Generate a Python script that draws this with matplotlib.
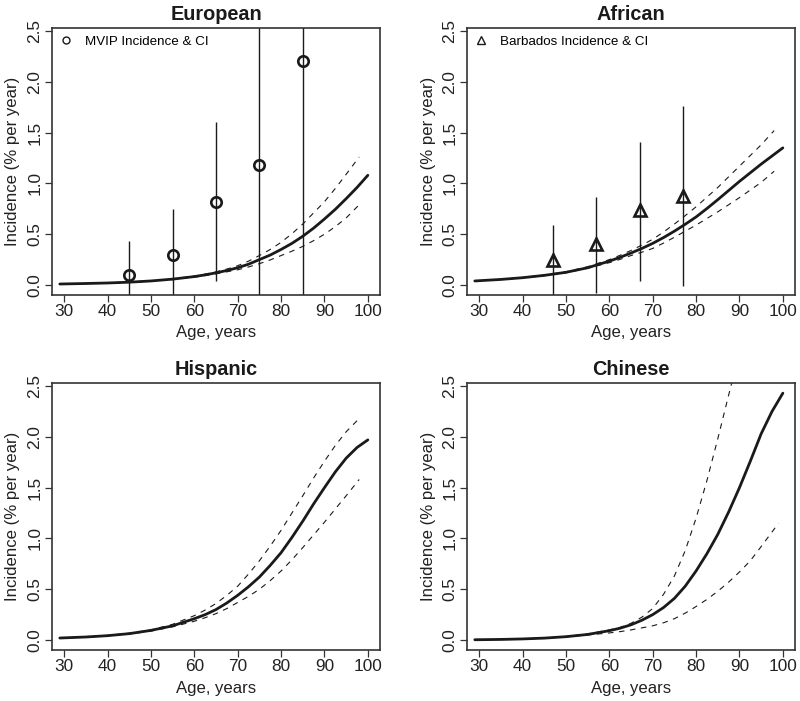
import matplotlib
matplotlib.use("Agg")
import matplotlib.pyplot as plt
from matplotlib.lines import Line2D

plt.rcParams['font.family'] = ['Liberation Sans', 'DejaVu Sans']

age_fit = [29, 35, 40, 45, 50, 55, 60, 62.5, 65, 67.5, 70, 72.5, 75, 77.5,
           80, 82.5, 85, 87.5, 90, 92.5, 95, 97.5, 100]
age_ci = [29, 35, 40, 45, 50, 55, 60, 62.5, 65, 67.5, 70, 72.5, 75, 77.5,
          80, 82.5, 85, 87.5, 90, 92.5, 95, 98]
age_ci_ch = [29, 35, 40, 45, 50, 55, 60, 62.5, 65, 67.5, 70, 72.5, 75, 77.5,
             80, 82.5, 85, 87.5, 90, 92.5, 95, 99]

# European
eu_fit = [0.010, 0.015, 0.020, 0.028, 0.040, 0.058, 0.083, 0.10, 0.12, 0.143, 0.17, 0.205,
          0.25, 0.295, 0.35, 0.41, 0.48, 0.56, 0.65, 0.745, 0.85, 0.96, 1.08]
eu_hi = [0.010, 0.015, 0.021, 0.029, 0.042, 0.061, 0.088, 0.107, 0.13, 0.157, 0.19, 0.235,
         0.29, 0.35, 0.42, 0.505, 0.60, 0.71, 0.82, 0.95, 1.09, 1.26]
eu_lo = [0.009, 0.014, 0.019, 0.026, 0.037, 0.054, 0.077, 0.093, 0.11, 0.13, 0.15, 0.178,
         0.21, 0.247, 0.29, 0.333, 0.38, 0.437, 0.50, 0.575, 0.66, 0.79]

# African
af_fit = [0.040, 0.055, 0.072, 0.095, 0.125, 0.17, 0.235, 0.273, 0.315, 0.36, 0.41, 0.467,
          0.53, 0.598, 0.67, 0.753, 0.84, 0.93, 1.02, 1.105, 1.19, 1.27, 1.35]
af_hi = [0.040, 0.056, 0.074, 0.098, 0.13, 0.18, 0.25, 0.293, 0.34, 0.393, 0.45, 0.522,
         0.60, 0.683, 0.77, 0.865, 0.96, 1.065, 1.17, 1.275, 1.38, 1.52]
af_lo = [0.039, 0.054, 0.070, 0.092, 0.12, 0.165, 0.22, 0.253, 0.29, 0.323, 0.36, 0.413,
         0.47, 0.53, 0.59, 0.655, 0.72, 0.79, 0.86, 0.935, 1.01, 1.12]

# Hispanic
hs_fit = [0.020, 0.030, 0.043, 0.063, 0.095, 0.14, 0.21, 0.25, 0.30, 0.365, 0.44, 0.525,
          0.62, 0.735, 0.86, 1.01, 1.17, 1.34, 1.50, 1.655, 1.79, 1.895, 1.97]
hs_hi = [0.020, 0.031, 0.045, 0.067, 0.10, 0.155, 0.24, 0.295, 0.36, 0.44, 0.53, 0.65,
         0.78, 0.925, 1.08, 1.25, 1.42, 1.595, 1.76, 1.915, 2.05, 2.18]
hs_lo = [0.019, 0.029, 0.041, 0.059, 0.088, 0.13, 0.185, 0.22, 0.26, 0.31, 0.37, 0.43,
         0.50, 0.585, 0.68, 0.79, 0.91, 1.035, 1.16, 1.29, 1.42, 1.58]

# Chinese
ch_fit = [0.003, 0.006, 0.011, 0.019, 0.033, 0.055, 0.092, 0.117, 0.15, 0.195, 0.25, 0.32,
          0.41, 0.53, 0.68, 0.85, 1.04, 1.26, 1.50, 1.76, 2.03, 2.25, 2.43]
ch_hi = [0.003, 0.006, 0.011, 0.020, 0.035, 0.060, 0.10, 0.125, 0.165, 0.225, 0.31, 0.45,
         0.63, 0.88, 1.20, 1.57, 1.98, 2.41, 2.83, 3.25, 3.70, 4.35]
ch_lo = [0.003, 0.006, 0.010, 0.018, 0.031, 0.050, 0.07, 0.083, 0.10, 0.12, 0.14, 0.17,
         0.21, 0.265, 0.33, 0.40, 0.48, 0.57, 0.67, 0.78, 0.92, 1.15]

# observed incidence with CI
mvip_age = [45, 55, 65, 75, 85]
mvip_inc = [0.10, 0.30, 0.82, 1.18, 2.20]
mvip_lo = [-0.25, -0.15, 0.04, -0.50, -0.30]
mvip_hi = [0.43, 0.75, 1.60, 2.90, 4.70]

barb_age = [47, 57, 67, 77]
barb_inc = [0.25, 0.40, 0.74, 0.88]
barb_lo = [-0.12, -0.08, 0.04, -0.005]
barb_hi = [0.59, 0.87, 1.41, 1.76]

x_ticks = [30, 40, 50, 60, 70, 80, 90, 100]
y_ticks = [0.0, 0.5, 1.0, 1.5, 2.0, 2.5]
y_ticklabels = ['0.0', '0.5', '1.0', '1.5', '2.0', '2.5']

INK = '#1a1a1a'


def draw_panel(ax, title, fit, hi, lo, ci_age=age_ci):
    ax.plot(age_fit, fit, color=INK, lw=2.0, solid_capstyle='round',
            solid_joinstyle='round')
    ax.plot(ci_age, hi, color=INK, lw=0.8, dashes=(5, 5))
    ax.plot(ci_age, lo, color=INK, lw=0.8, dashes=(5, 5))
    ax.set_xlim(27.2, 102.8)
    ax.set_ylim(-0.098, 2.53)
    ax.set_xticks(x_ticks)
    ax.set_yticks(y_ticks)
    ax.set_yticklabels(y_ticklabels, rotation=90, va='center')
    ax.tick_params(direction='out', length=4.8, width=0.9, labelsize=12.4,
                   color='#333333', labelcolor='#222222')
    ax.tick_params(axis='x', pad=2)
    ax.tick_params(axis='y', pad=2)
    for s in ax.spines.values():
        s.set_color('#333333')
        s.set_linewidth(1.2)
    ax.set_title(title, fontsize=14.3, fontweight='bold', pad=6, color=INK)
    ax.set_xlabel('Age, years', fontsize=12.1, color='#222222')
    ax.set_ylabel('Incidence (% per year)', fontsize=12.1, color='#222222')
    ax.xaxis.label.set_va('center')
    ax.xaxis.set_label_coords(0.5, -38 / 267)
    ax.yaxis.label.set_va('center')
    ax.yaxis.label.set_ha('center')
    ax.yaxis.set_label_coords(-39 / 328, 0.5)


fig = plt.figure(figsize=(8, 7.01), dpi=100)
w, h = 0.41, 0.3809
ax_eu = fig.add_axes([0.065, 0.5792, w, h])
ax_af = fig.add_axes([0.58375, 0.5792, w, h])
ax_hs = fig.add_axes([0.065, 0.07275, w, h])
ax_ch = fig.add_axes([0.58375, 0.07275, w, h])

draw_panel(ax_eu, 'European', eu_fit, eu_hi, eu_lo)
draw_panel(ax_af, 'African', af_fit, af_hi, af_lo)
draw_panel(ax_hs, 'Hispanic', hs_fit, hs_hi, hs_lo)
draw_panel(ax_ch, 'Chinese', ch_fit, ch_hi, ch_lo, ci_age=age_ci_ch)

# observed points and their CIs
ax_eu.vlines(mvip_age, mvip_lo, mvip_hi, color=INK, lw=1.0)
ax_eu.plot(mvip_age, mvip_inc, ls='none', marker='o', ms=7.5, mfc='none',
           mec=INK, mew=1.9)
ax_af.vlines(barb_age, barb_lo, barb_hi, color=INK, lw=1.0)
ax_af.plot(barb_age, barb_inc, ls='none', marker='^', ms=9, mfc='none',
           mec=INK, mew=1.9)

eu_key = Line2D([], [], ls='none', marker='o', ms=5, mfc='none', mec=INK, mew=1.0)
af_key = Line2D([], [], ls='none', marker='^', ms=6, mfc='none', mec=INK, mew=1.0)
ax_eu.legend([eu_key], ['MVIP Incidence & CI'], loc='upper left', frameon=False,
             fontsize=9.6, handlelength=1.0, handletextpad=0.9,
             borderaxespad=0.25, borderpad=0.3)
ax_af.legend([af_key], ['Barbados Incidence & CI'], loc='upper left', frameon=False,
             fontsize=9.6, handlelength=1.0, handletextpad=0.9,
             borderaxespad=0.25, borderpad=0.3)

fig.savefig('out.png', dpi=100)
